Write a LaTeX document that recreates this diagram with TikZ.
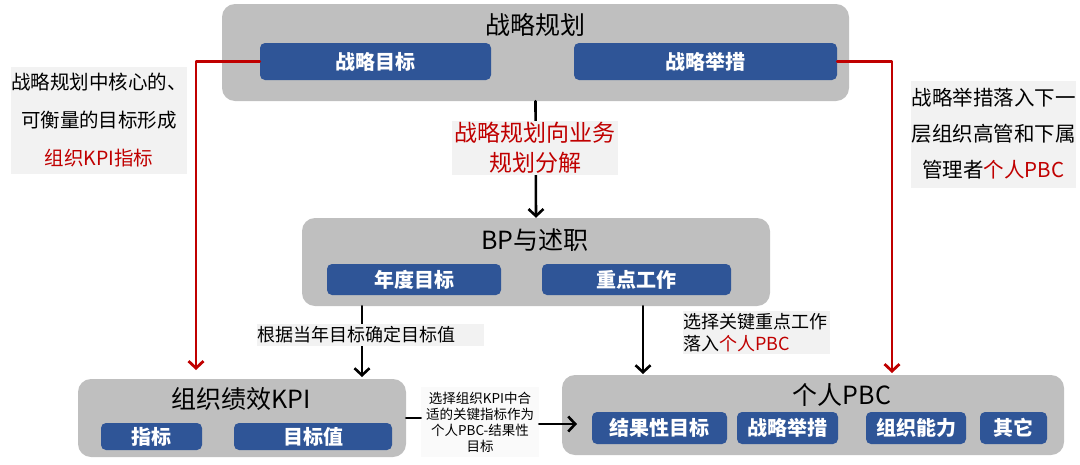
\documentclass[tikz,border=0pt]{standalone}
\usepackage{fontspec}
\setmainfont{Noto Sans CJK SC}
\usetikzlibrary{arrows.meta}
\definecolor{panelgray}{HTML}{BFBFBF}
\definecolor{tagblue}{HTML}{2F5597}
\definecolor{keyred}{HTML}{C00000}
\definecolor{notegray}{HTML}{F2F2F2}
\tikzset{
  panel/.style={fill=panelgray,rounded corners=13pt,inner sep=0pt},
  paneltitle/.style={inner sep=0pt,font=\fontsize{25}{25}\selectfont},
  tag/.style={fill=tagblue,rounded corners=5pt,inner sep=0pt,text=white,
    font=\bfseries\fontsize{20}{20}\selectfont},
  note/.style={fill=notegray,inner sep=0pt,align=center},
  link/.style={->,line width=2.6pt},
  redlink/.style={->,draw=keyred,line width=2.8pt},
}
\begin{document}
\begin{tikzpicture}[x=1pt,y=-1pt,>={Straight Barb[length=7pt,width=15pt]},line cap=round,line join=round]
  \useasboundingbox (0,0) rectangle (1080,464);
  % panels
  \node[panel,minimum width=627pt,minimum height=97pt] (plan) at (535.5,52.5) {};
  \node[paneltitle] (plantitle) at (535.5,25) {战略规划};
  \node[tag,minimum width=231pt,minimum height=37pt] (goal) at (375.5,61.5) {战略目标};
  \node[tag,minimum width=263pt,minimum height=37pt] (move) at (705.5,61.5) {战略举措};

  \node[panel,minimum width=468pt,minimum height=88pt] (bp) at (536,262) {};
  \node[paneltitle] (bptitle) at (535,240) {BP与述职};
  \node[tag,minimum width=174pt,minimum height=31pt] (annual) at (414,279.5) {年度目标};
  \node[tag,minimum width=189pt,minimum height=31pt] (focus) at (636.5,279.5) {重点工作};

  \node[panel,minimum width=328pt,minimum height=78pt] (kpi) at (242,418) {};
  \node[paneltitle] (kpititle) at (241,399) {组织绩效KPI};
  \node[tag,minimum width=101pt,minimum height=27pt] (index) at (151.5,436.5) {指标};
  \node[tag,minimum width=158pt,minimum height=27pt] (target) at (313,436.5) {目标值};

  \node[panel,minimum width=502pt,minimum height=80pt] (pbc) at (813,415) {};
  \node[paneltitle] (pbctitle) at (842,395) {个人PBC};
  \node[tag,minimum width=135pt,minimum height=32pt] (result) at (659.5,428) {结果性目标};
  \node[tag,minimum width=101pt,minimum height=32pt] (pbcmove) at (787.5,428) {战略举措};
  \node[tag,minimum width=100pt,minimum height=32pt] (ability) at (916,428) {组织能力};
  \node[tag,minimum width=67pt,minimum height=32pt] (other) at (1013.5,428) {其它};

  % connectors
  \coordinate (kpired) at (196,370);
  \coordinate (pbcred) at (892,373);
  \coordinate (kpitip) at (362,377);
  \coordinate (pbctip) at (643,374);
  \coordinate (pbcin) at (577,424);
  \draw[redlink] (goal.west) -| (kpired);
  \draw[redlink] (move.east) -| (pbcred);
  \draw[link] (plan.south) -- (bp.north);
  \draw[link] (kpitip |- bp.south) -- (kpitip);
  \draw[link] (pbctip |- bp.south) -- (pbctip);

  % notes
  \node[note,font=\fontsize{19.5}{38}\selectfont,minimum width=170pt,minimum height=107pt] (kpiwhy) at (99,120)
    {战略规划中核心的、\\可衡量的目标形成\\\textcolor{keyred}{组织KPI指标}};
  \node[note,font=\fontsize{20.5}{36}\selectfont,minimum width=165pt,minimum height=107pt] (pbcwhy) at (993.5,134)
    {战略举措落入下一\\层组织高管和下属\\管理者\textcolor{keyred}{个人PBC}};
  \node[note,text=keyred,font=\fontsize{23}{30}\selectfont,minimum width=166pt,minimum height=54pt] (split) at (535,148)
    {战略规划向业务\\规划分解};
  \node[note,align=left,text width=227pt,minimum height=22pt,font=\fontsize{18}{22}\selectfont] (valuenote) at (370.5,335)
    {根据当年目标确定目标值};
  \node[note,align=left,text width=147pt,minimum height=43pt,font=\fontsize{18}{22}\selectfont] (focusnote) at (756.5,332.5)
    {选择关键重点工作\\落入\textcolor{keyred}{个人PBC}};
  \node[note,fill=notegray!40,minimum width=118pt,minimum height=70pt,font=\fontsize{13.5}{16}\selectfont] (picknote) at (480,422)
    {选择组织KPI中合\\适的关键指标作为\\个人PBC-结果性\\目标};
  \draw[line width=2.6pt] (kpi.east) -- (kpi.east -| picknote.west);
  \draw[link] (picknote.east |- pbcin) -- (pbcin);
\end{tikzpicture}
\end{document}
